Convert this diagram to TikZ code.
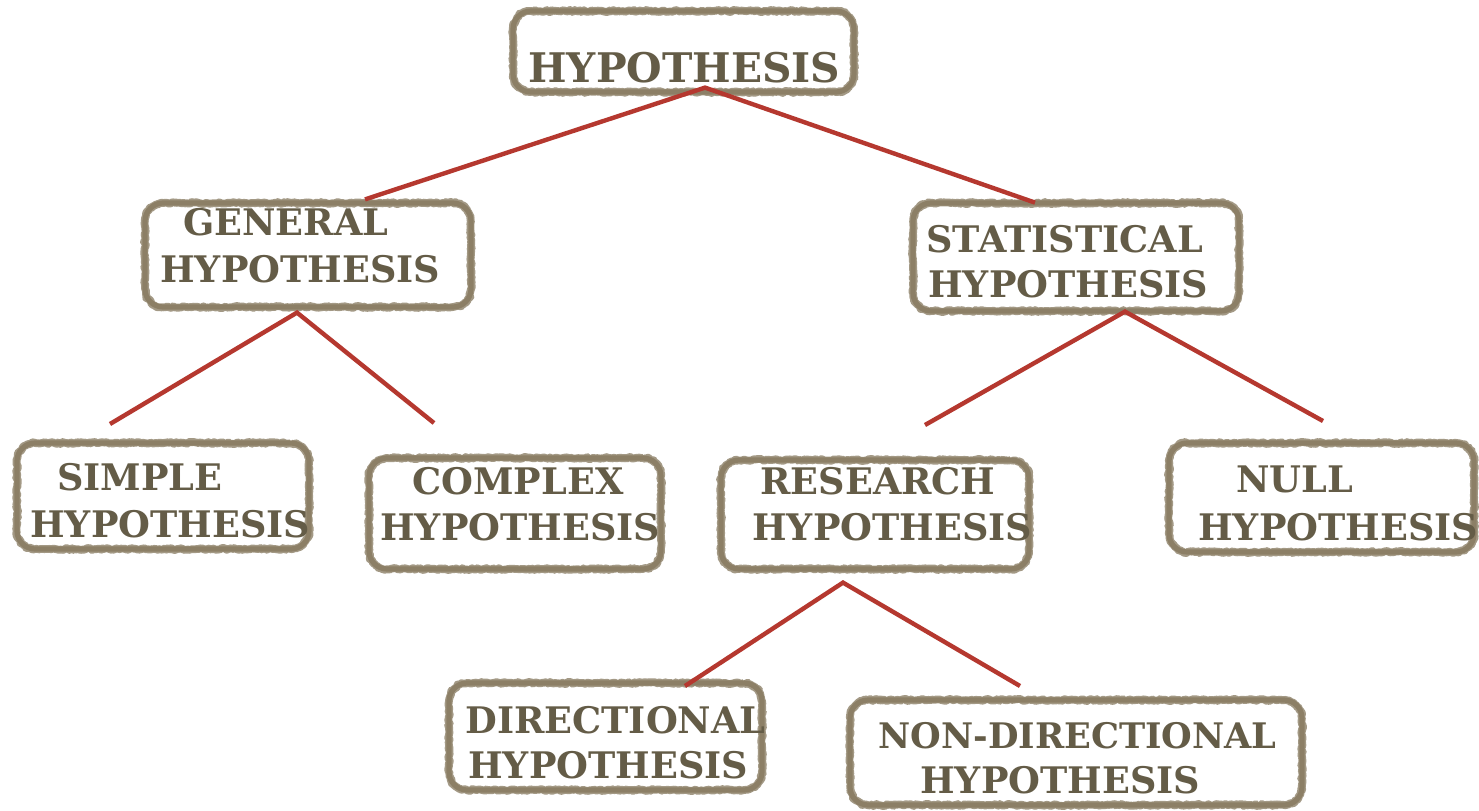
\documentclass[tikz,border=0pt]{standalone}
\usepackage{fontspec}
\usepackage{xcolor}
\usetikzlibrary{calc}
\usetikzlibrary{decorations.pathmorphing}
\newfontfamily\heavyface{DejaVu Serif}
\definecolor{boxtaupe}{HTML}{8C7F66}
\definecolor{inkbrown}{HTML}{645C47}
\definecolor{linkred}{HTML}{B5382F}
\pgfmathsetseed{7}

\begin{document}
\begin{tikzpicture}[x=0.5pt,y=-0.5pt,
    box/.style={draw=boxtaupe, line width=2.6pt, rounded corners=9pt, inner sep=0pt,
        preaction={draw=boxtaupe!80, line width=3.9pt, line join=round, sharp corners, decorate,
            decoration={random steps, segment length=0.9pt, amplitude=0.5pt}}},
    word/.style={text=inkbrown, inner sep=0pt, anchor=base west,
        font=\heavyface\bfseries\fontsize{18.3}{18.3}\selectfont},
    link/.style={draw=linkred, line width=2.2pt}]
       	\useasboundingbox[fill=white] (0,0) rectangle (1479,810);

       	% boxes
       	\node[box, minimum width=170.5pt, minimum height=40.5pt] (top) at (683.5,51.5) {};
       	\node[box, minimum width=163pt, minimum height=52pt] (general) at (308,255) {};
       	\node[box, minimum width=163pt, minimum height=54pt] (statistical) at (1076,257) {};
       	\node[box, minimum width=146pt, minimum height=53pt] (simple) at (163,496) {};
       	\node[box, minimum width=146pt, minimum height=55.5pt] (complex) at (515,513.5) {};
       	\node[box, minimum width=154pt, minimum height=54.5pt] (research) at (875,514.5) {};
       	\node[box, minimum width=152.5pt, minimum height=54.5pt] (null) at (1321.5,497.5) {};
       	\node[box, minimum width=156.5pt, minimum height=53.5pt] (directional) at (605.5,736.5) {};
       	\node[box, minimum width=226pt, minimum height=52.5pt] (nondirectional) at (1076,752.5) {};

       	% texts
       	\node[word, font=\heavyface\bfseries\fontsize{20.4}{20.4}\selectfont] (top-a) at (528,82) {HYPOTHESIS};
       	\node[word] (general-a) at (183,235) {GENERAL};
       	\node[word] (general-b) at (160,282) {HYPOTHESIS};
       	\node[word] (statistical-a) at (926,252) {STATISTICAL};
       	\node[word] (statistical-b) at (928,297) {HYPOTHESIS};
       	\node[word] (simple-a) at (57,490) {SIMPLE};
       	\node[word] (simple-b) at (30,537) {HYPOTHESIS};
       	\node[word] (complex-a) at (412,494) {COMPLEX};
       	\node[word] (complex-b) at (380,540) {HYPOTHESIS};
       	\node[word] (research-a) at (760,494) {RESEARCH};
       	\node[word] (research-b) at (752,540) {HYPOTHESIS};
       	\node[word] (null-a) at (1236,492) {NULL};
       	\node[word] (null-b) at (1198,540) {HYPOTHESIS};
       	\node[word] (directional-a) at (465,733) {DIRECTIONAL};
       	\node[word] (directional-b) at (468,778) {HYPOTHESIS};
       	\node[word, font=\heavyface\bfseries\fontsize{17.6}{17.6}\selectfont] (nondirectional-a) at (878,748) {NON-DIRECTIONAL};
       	\node[word] (nondirectional-b) at (920,793) {HYPOTHESIS};

       	% links
       	\coordinate (top-j) at ($(top.south)+(21.5,-7)$);
       	\coordinate (general-j) at ($(general.south)+(-11,3)$);
       	\coordinate (statistical-j) at ($(statistical.south)+(49,-2)$);
       	\coordinate (research-j) at ($(research.south)+(-32,11)$);
       	\coordinate (simple-e) at (110,424);
       	\coordinate (complex-e) at (434,423);
       	\coordinate (research-e) at (925,425);
       	\coordinate (null-e) at (1323,421);
       	\coordinate (directional-e) at (685,686);
       	\coordinate (nondirectional-e) at (1020,686);
       	\draw[link] (general.north) ++(57,-1) -- (top-j) -- ++(330,115);
       	\draw[link] (simple-e) -- (general-j) -- (complex-e);
       	\draw[link] (research-e) -- (statistical-j) -- (null-e);
       	\draw[link] (directional-e) -- (research-j) -- (nondirectional-e);
       	\end{tikzpicture}
\end{document}
